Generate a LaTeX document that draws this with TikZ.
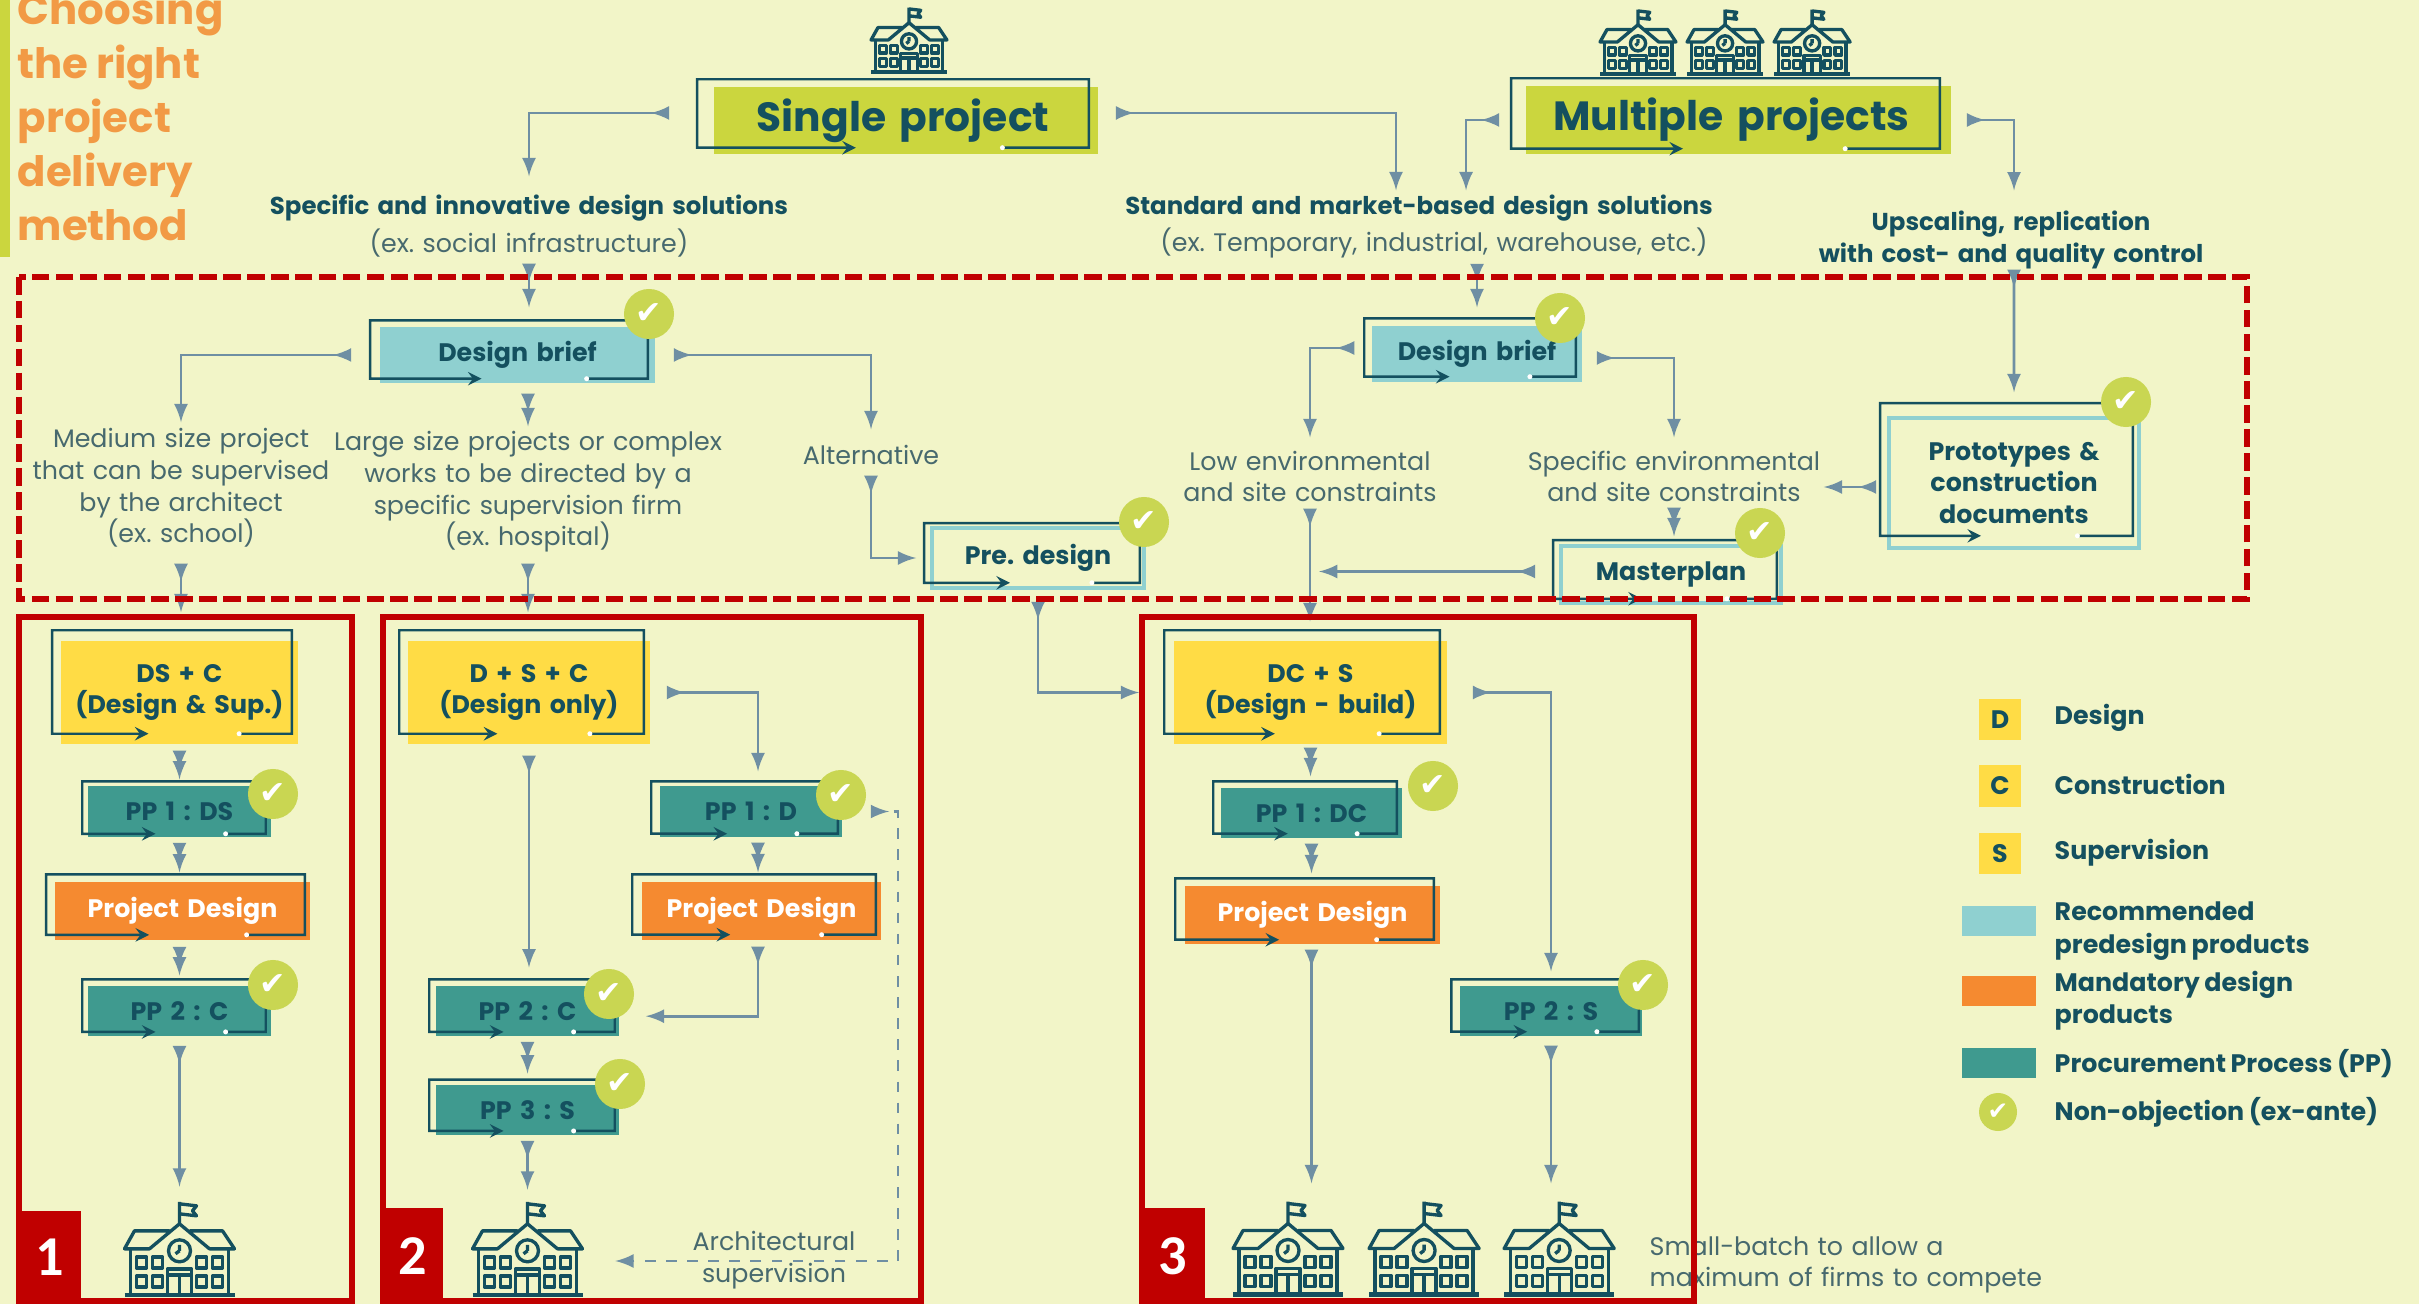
\documentclass[tikz,border=0pt]{standalone}
\usepackage{fontspec}
\setmainfont{Poppins}[WordSpace=.85]
\newfontfamily\tickfont{DejaVu Sans}
\newfontfamily\numfont{Carlito}
\usepackage{tikz}
\usetikzlibrary{shapes,arrows}
\usetikzlibrary{calc}
\frenchspacing
\definecolor{paper}{HTML}{F2F5C8}
\definecolor{inkteal}{HTML}{14505F}
\definecolor{softink}{HTML}{47696E}
\definecolor{flowgray}{HTML}{6F8FA3}
\definecolor{limefill}{HTML}{CBD63E}
\definecolor{checklime}{HTML}{C9D652}
\definecolor{briefblue}{HTML}{8FD0D0}
\definecolor{sunyellow}{HTML}{FFDC45}
\definecolor{ppteal}{HTML}{3F9A8F}
\definecolor{pdorange}{HTML}{F58A30}
\definecolor{titleorange}{HTML}{F29A45}
\definecolor{boxred}{HTML}{C00000}
\tikzstyle{block} = [rectangle, inner sep=0pt, text centered, text=inkteal,
    font=\fontsize{7.2}{9}\selectfont\bfseries]
\tikzstyle{bigblock} = [block, fill=limefill, font=\fontsize{11.6}{13}\selectfont\bfseries]
\tikzstyle{briefblock} = [block, fill=briefblue]
\tikzstyle{lightblock} = [block, draw=briefblue, line width=1pt]
\tikzstyle{deliveryblock} = [block, fill=sunyellow, text width=2.4cm, minimum height=1.03cm]
\tikzstyle{ppblock} = [block, fill=ppteal]
\tikzstyle{designblock} = [block, fill=pdorange, text=white, minimum height=.58cm]
\tikzstyle{boldlabel} = [block, minimum height=.3cm, font=\fontsize{6.95}{9}\selectfont\bfseries]
\tikzstyle{thinlabel} = [rectangle, inner sep=0pt, text centered, text=softink,
    font=\fontsize{7.2}{9}\selectfont]
\tikzstyle{legendlabel} = [rectangle, inner sep=0pt, anchor=west, align=left, text=inkteal,
    font=\fontsize{7.2}{9.2}\selectfont\bfseries]
\tikzstyle{legendkey} = [block, fill=sunyellow, text width=.42cm, minimum height=.41cm]
\tikzstyle{swatch} = [rectangle, inner sep=0pt, minimum width=.74cm, minimum height=.3cm]
\tikzstyle{okmark} = [circle, fill=checklime, inner sep=0pt, minimum size=.5cm, text=white,
    font=\tickfont\fontsize{9}{9}\selectfont]
\tikzstyle{schoolblock} = [rectangle, inner sep=0pt, minimum width=1.1cm, minimum height=.93cm]
\tikzstyle{smallschool} = [rectangle, inner sep=0pt, minimum width=.77cm, minimum height=.65cm]
\tikzstyle{flow} = [latex reversed-latex, thick, flowgray]
\tikzstyle{frameline} = [stealth-, line width=.7pt, inkteal, line join=miter]
\tikzstyle{redbox} = [boxred, line width=1.7pt]
\tikzstyle{reddash} = [boxred, line width=1.6pt, dash pattern=on 5pt off 1.8pt]
\tikzstyle{badge} = [rectangle, fill=boxred, text=white, inner sep=0pt,
    font=\numfont\fontsize{16}{16}\selectfont\bfseries]
\newcommand{\blockframe}[5]{%
    \draw [frameline] ($(#1.south west)!.37!(#1.south east)+(0,#5)$) -- ($(#1.south west)+(#2,#5)$)
        -- ($(#1.north west)+(#2,#3)$) -- ($(#1.north east)+(#4,#3)$)
        -- ($(#1.south east)+(#4,#5)$) -- ($(#1.south west)!.75!(#1.south east)+(0,#5)$);
    \fill [white] ($(#1.south west)!.75!(#1.south east)+(0,#5)$) circle (2.5);}
\newcommand{\schoolicon}[2]{%
    \begin{scope}[shift={(#1.center)}, scale=#2, inkteal, line width=.95pt, line join=round]
    \draw (0,-25) -- (0,-47) (0,-45) -- (17,-43) -- (13,-38) -- (17,-33) -- (0,-35);
    \draw (-10,-18) -- (-45,-18) -- (-55,0) -- (-30,0) -- (0,-25) -- (30,0) -- (55,0) -- (43,-18) -- (10,-18);
    \draw (-49,0) -- (-49,45) (49,0) -- (49,45);
    \draw[line width=1.2pt] (-55,46) -- (55,46);
    \draw (0,2) circle (11) (0,2) -- (0,-4) (0,2) -- (-4,5);
    \foreach \colx in {-43,-27,17,33} \foreach \rowy in {8,27}
        \draw (\colx,\rowy) rectangle ++(10,11);
    \draw (-12,46) -- (-12,20) -- (12,20) -- (12,46) (0,26) -- (0,46) (-12,26) -- (12,26);
    \end{scope}}
\begin{document}
\begin{tikzpicture}[x=.01cm, y=-.01cm, node distance = 1cm, auto]
    \useasboundingbox (0,0) rectangle (2419,1304);
    \fill [paper] (0,0) rectangle (2419,1304);
    \fill [limefill] (0,0) rectangle (10,257);
    \node [rectangle, inner sep=0pt, anchor=west, align=left, text=titleorange,
        font=\fontsize{11.9}{15.4}\selectfont\bfseries] (title) at (17,116)
        {Choosing\\the right\\project\\delivery\\method};
    % top row
    \node [bigblock, text width=3.84cm, minimum height=.67cm] (single) at (906,120.5) {Single project\hspace*{.06cm}};
    \node [bigblock, text width=4.25cm, minimum height=.68cm] (multiple) at (1738.5,120) {Multiple projects\hspace*{.14cm}};
    \node [smallschool] (schooltop) at (909,40) {};
    \node [smallschool] (schoolx) at (1638,42) {};
    \node [smallschool, right of=schoolx, node distance=.87cm] (schooly) {};
    \node [smallschool, right of=schooly, node distance=.87cm] (schoolz) {};
    \node [boldlabel, text width=5.6cm] (specific) at (529,208) {Specific and innovative design solutions};
    \node [thinlabel, below of=specific, node distance=.35cm, text width=4cm, minimum height=.3cm] (specificex) {(ex. social infrastructure)};
    \node [boldlabel, text width=6.2cm] (standard) at (1419,208) {Standard and market-based design solutions};
    \node [thinlabel, text width=6cm, minimum height=.3cm] (standardex) at (1434,243) {(ex. Temporary, industrial, warehouse, etc.)};
    \node [boldlabel, text width=4.2cm, minimum height=.56cm] (upscaling) at (2011,240) {Upscaling, replication\\with cost- and quality control};
    % pre-design row
    \node [briefblock, text width=2.75cm, minimum height=.56cm] (brief) at (517.5,355) {Design brief};
    \node [thinlabel, text width=3.2cm, minimum height=1.3cm] (medium) at (181,488) {Medium size project\\that can be supervised\\by the architect\\(ex. school)};
    \node [thinlabel, text width=4.3cm, minimum height=1.3cm] (large) at (528,492) {Large size projects or complex\\works to be directed by a\\specific supervision firm\\(ex. hospital)};
    \node [thinlabel, text width=1.6cm, minimum height=.4cm] (alternative) at (871,455) {Alternative};
    \node [lightblock, text width=2.12cm, minimum height=.6cm] (predesign) at (1038,558) {Pre. design};
    \node [briefblock, text width=2.1cm, minimum height=.56cm] (briefb) at (1477,354) {Design brief};
    \node [thinlabel, text width=2.7cm, minimum height=.61cm] (lowsite) at (1310,476.5) {Low environmental\\and site constraints};
    \node [thinlabel, text width=3.1cm, minimum height=.61cm] (specsite) at (1674,476.5) {Specific environmental\\and site constraints};
    \node [lightblock, text width=2.2cm, minimum height=.57cm] (masterplan) at (1671,574.5) {Masterplan};
    \node [lightblock, text width=2.5cm, minimum height=1.3cm] (prototypes) at (2014,483) {Prototypes \&\\construction\\documents};
    % option 1
    \node [deliveryblock, text width=2.37cm] (dsc) at (179.5,692.5) {DS + C\\(Design \& Sup.)};
    \node [ppblock, below of=dsc, node distance=1.19cm, text width=1.83cm, minimum height=.51cm] (ppds) {PP 1 : DS};
    \node [designblock, below of=ppds, node distance=.995cm, xshift=.03cm, text width=2.55cm] (designa) {Project Design};
    \node [ppblock, below of=ppds, node distance=1.995cm, text width=1.83cm, minimum height=.5cm] (ppca) {PP 2 : C};
    \node [schoolblock, below of=ppca, node distance=2.375cm] (schoola) {};
    % option 2
    \node [deliveryblock, text width=2.42cm] (dplus) at (529,692.5) {D + S + C\\(Design only)};
    \node [ppblock, below of=dplus, node distance=3.185cm, xshift=-.015cm, text width=1.83cm, minimum height=.5cm] (ppcb) {PP 2 : C};
    \node [ppblock, below of=ppcb, node distance=.99cm, text width=1.83cm, minimum height=.5cm] (ppsb) {PP 3 : S};
    \node [schoolblock, below of=ppsb, node distance=1.385cm] (schoolb) {};
    \node [ppblock, text width=1.82cm, minimum height=.51cm] (ppd) at (751,811.5) {PP 1 : D};
    \node [designblock, text width=2.39cm] (designb) at (761.5,911) {Project Design};
    \node [thinlabel, text width=2.2cm] (archsup) at (774,1260) {Architectural\\supervision};
    \coordinate (archturn) at (898,1261);
    % option 3
    \node [deliveryblock, text width=2.73cm] (dcs) at (1310.5,692.5) {DC + S\\(Design - build)};
    \node [ppblock, text width=1.81cm, minimum height=.5cm] (ppdc) at (1311.5,813) {PP 1 : DC};
    \node [designblock, text width=2.55cm] (designc) at (1312.5,915) {Project Design};
    \node [ppblock, text width=1.82cm, minimum height=.5cm] (ppsc) at (1551,1011) {PP 2 : S};
    \node [schoolblock] (schoolc) at (1288,1248.5) {};
    \node [schoolblock, right of=schoolc, node distance=1.36cm] (schoold) {};
    \node [schoolblock, right of=schoold, node distance=1.35cm] (schoole) {};
    \node [thinlabel, anchor=west, align=left, text centered=false, text width=4.2cm, text ragged] (smallbatch) at (1649,1265) {Small-batch to allow a\\maximum of firms to compete};
    % legend
    \node [legendkey] (keyd) at (2000,719.5) {D};
    \node [legendkey] (keyc) at (2000,786) {C};
    \node [legendkey] (keys) at (2000,853.5) {S};
    \node [swatch, fill=briefblue] (keyrec) at (1999,921) {};
    \node [swatch, fill=pdorange] (keymand) at (1999,991) {};
    \node [swatch, fill=ppteal] (keypp) at (1999,1063) {};
    \node [okmark, minimum size=.38cm, font=\tickfont\fontsize{7}{7}\selectfont] (keyok) at (1998,1112) {✔};
    \node [legendlabel] at (2054,718) (labeld) {Design};
    \node [legendlabel] at (2054,784) (labelc) {Construction};
    \node [legendlabel] at (2054,853) (labels) {Supervision};
    \node [legendlabel] at (2054,931) (labelrec) {Recommended\\predesign products};
    \node [legendlabel] at (2054,1001) (labelmand) {Mandatory design\\products};
    \node [legendlabel] at (2054,1064) (labelpp) {Procurement Process (PP)};
    \node [legendlabel] at (2054,1112) (labelok) {Non-objection (ex-ante)};
    % outlines
    \blockframe{single}{-16}{-7}{-10}{-7}
    \blockframe{multiple}{-14}{-7}{-12}{-6}
    \blockframe{brief}{-9}{-6}{-8}{-5}
    \blockframe{briefb}{-7}{-7}{-7}{-6}
    \blockframe{predesign}{-6}{-3}{-6}{-7}
    \blockframe{masterplan}{-6}{-4}{-6}{-6}
    \blockframe{prototypes}{-7}{-13}{-8}{-14}
    \blockframe{dsc}{-8}{-10}{-7}{-11}
    \blockframe{ppds}{-5}{-4}{-6}{-4}
    \blockframe{designa}{-8}{-7}{-6}{-6}
    \blockframe{ppca}{-5}{-6}{-6}{-5}
    \blockframe{dplus}{-8}{-10}{-7}{-11}
    \blockframe{ppd}{-8}{-4}{-5}{-4}
    \blockframe{designb}{-9}{-7}{-6}{-6}
    \blockframe{ppcb}{-6}{-6}{-5}{-5}
    \blockframe{ppsb}{-6}{-5}{-5}{-5}
    \blockframe{dcs}{-9}{-10}{-8}{-11}
    \blockframe{ppdc}{-7}{-6}{-6}{-5}
    \blockframe{designc}{-9}{-7}{-7}{-5}
    \blockframe{ppsc}{-8}{-6}{-4}{-5}
    % schools
    \schoolicon{schooltop}{.69}
    \schoolicon{schoolx}{.69}
    \schoolicon{schooly}{.69}
    \schoolicon{schoolz}{.69}
    \schoolicon{schoola}{1}
    \schoolicon{schoolb}{1}
    \schoolicon{schoolc}{1}
    \schoolicon{schoold}{1}
    \schoolicon{schoole}{1}
    % Draw edges
    \draw [flow, shorten <=.44cm, shorten >=.16cm] ([yshift=.075cm]single.west) -| (specific.north);
    \draw [flow, shorten <=.17cm, shorten >=.02cm] ([yshift=.075cm]single.east) -| ([xshift=-.23cm]standard.north);
    \draw [flow, shorten <=.26cm, shorten >=.02cm] (multiple.west) -| ([xshift=.47cm]standard.north);
    \draw [flow, shorten <=.15cm, shorten >=.2cm] (multiple.east) -| ([xshift=.03cm]upscaling.north);
    \draw [flow, shorten <=.05cm, shorten >=.19cm] (specificex.south) -- (specificex.south |- brief.north);
    \draw [flow, shorten <=.05cm, shorten >=.18cm] (briefb.north |- standardex.south) -- (briefb.north);
    \draw [flow, shorten >=.24cm] ([xshift=.03cm]upscaling.south) -- (prototypes.north);
    \draw [flow, shorten <=.28cm] (brief.west) -| (medium.north);
    \draw [flow, shorten <=.1cm] (large.north |- brief.south) -- (large.north);
    \draw [flow, shorten <=.18cm, shorten >=.05cm] (brief.east) -| (alternative.north);
    \draw [flow, shorten >=.14cm] (alternative.south) |- (predesign.west);
    \draw [flow, shorten <=.12cm, shorten >=.34cm] (predesign.south) |- (dcs.west);
    \draw [flow, shorten <=.1cm, shorten >=.28cm] (medium.south) -- (medium.south |- dsc.north);
    \draw [flow, shorten <=.06cm, shorten >=.28cm] (large.south) -- (large.south |- dplus.north);
    \draw [flow, shorten <=.17cm, shorten >=.08cm] ([yshift=.06cm]briefb.west) -| (lowsite.north);
    \draw [flow, shorten <=.14cm, shorten >=.08cm] ([yshift=-.04cm]briefb.east) -| (specsite.north);
    \draw [flow, shorten <=.11cm, shorten >=-.06cm] ([yshift=-.04cm]prototypes.west) -- ([yshift=-.04cm]prototypes.west -| specsite.east);
    \draw [flow, shorten >=.08cm] (specsite.south) -- (specsite.south |- masterplan.north);
    \draw [flow, shorten <=.24cm, shorten >=.09cm] ([yshift=.03cm]masterplan.west) -- ([yshift=.03cm]masterplan.west -| lowsite.south);
    \draw [flow, shorten <=.01cm, shorten >=.19cm] (lowsite.south) -- (lowsite.south |- dcs.north);
    % option 1 edges
    \draw [flow, shorten <=.06cm, shorten >=.06cm] (dsc.south) -- (ppds.north);
    \draw [flow, shorten <=.05cm, shorten >=.09cm] (ppds.south) -- (ppds.south |- designa.north);
    \draw [flow, shorten <=.06cm, shorten >=.1cm] (ppds.south |- designa.south) -- (ppca.north);
    \draw [flow, shorten <=.09cm, shorten >=.15cm] (ppca.south) -- (ppca.south |- schoola.north);
    % option 2 edges
    \draw [flow, shorten <=.11cm, shorten >=.18cm] (dplus.south) -- (dplus.south |- ppcb.north);
    \draw [flow, shorten <=.05cm, shorten >=.11cm] (ppcb.south) -- (ppsb.north);
    \draw [flow, shorten <=.05cm, shorten >=.12cm] (ppsb.south) -- (ppsb.south |- schoolb.north);
    \draw [flow, shorten <=.16cm, shorten >=.14cm] (dplus.east) -| ([xshift=.07cm]ppd.north);
    \draw [flow, shorten <=.05cm, shorten >=.09cm] ([xshift=.07cm]ppd.south) -- ([xshift=.07cm]ppd.south |- designb.north);
    \draw [flow, shorten <=.06cm, shorten >=.26cm] ([xshift=-.035cm]designb.south) |- ([yshift=-.05cm]ppcb.east);
    \draw [flow, dashed, shorten <=.28cm, shorten >=.32cm] (ppd.east) -| (archturn) -- (archturn -| schoolb.east);
    % option 3 edges
    \draw [flow, shorten <=.03cm, shorten >=.11cm] (dcs.south) -- (dcs.south |- ppdc.north);
    \draw [flow, shorten <=.05cm, shorten >=.12cm] (ppdc.south) -- (ppdc.south |- designc.north);
    \draw [flow, shorten <=.05cm, shorten >=.18cm] (designc.south -| ppdc.south) -- (ppdc.south |- schoolc.north);
    \draw [flow, shorten <=.25cm, shorten >=.14cm] (dcs.east) -| (ppsc.north);
    \draw [flow, shorten <=.09cm, shorten >=.18cm] (ppsc.south) -- (ppsc.south |- schoole.north);
    % non-objection marks
    \node [okmark] (okbrief) at (649,314) {✔};
    \node [okmark] (okpre) at (1144,522) {✔};
    \node [okmark] (okbriefb) at (1560,318) {✔};
    \node [okmark] (okmaster) at (1760,533) {✔};
    \node [okmark] (okproto) at (2126,402) {✔};
    \node [okmark] (okppds) at (273,794) {✔};
    \node [okmark] (okppca) at (273,985) {✔};
    \node [okmark] (okppd) at (841,795) {✔};
    \node [okmark] (okppcb) at (609,994) {✔};
    \node [okmark] (okppsb) at (620,1084) {✔};
    \node [okmark] (okppdc) at (1433,786) {✔};
    \node [okmark] (okppsc) at (1643,985) {✔};
    % option frames
    \draw [reddash] (19,277) rectangle (2247,599);
    \draw [redbox] (19,617) rectangle (352,1301);
    \draw [redbox] (383,617) rectangle (921,1301);
    \draw [redbox] (1142,617) rectangle (1694,1301);
    \node [badge, minimum width=.63cm, minimum height=.93cm] (badgea) at (49.5,1257.5) {1};
    \node [badge, minimum width=.6cm, minimum height=.96cm] (badgeb) at (413,1256) {2};
    \node [badge, minimum width=.65cm, minimum height=.96cm] (badgec) at (1172.5,1256) {3};
\end{tikzpicture}
\end{document}
